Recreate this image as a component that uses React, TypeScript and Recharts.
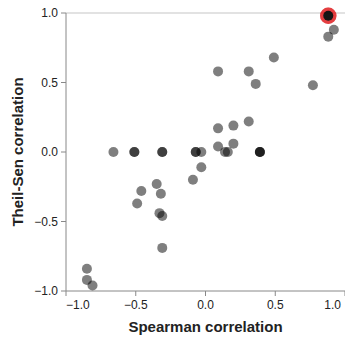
import React from 'react';
import { ScatterChart, Scatter, XAxis, YAxis, ReferenceLine } from 'recharts';

// Spearman (x) vs Theil-Sen (y) correlation per feature
const spearman = [
  0.92, 0.88, 0.49, 0.09, 0.31, 0.36, 0.77, 0.31, 0.2, 0.09,
  0.09, 0.2, 0.14, 0.16, -0.07, -0.07, -0.03, 0.39, 0.39, 0.39,
  -0.03, -0.09, -0.66, -0.51, -0.51, -0.31, -0.31, -0.35, -0.46, -0.32,
  -0.49, -0.33, -0.31, -0.31, -0.85, -0.85, -0.81,
];
const theilSen = [
  0.88, 0.83, 0.68, 0.58, 0.58, 0.49, 0.48, 0.22, 0.19, 0.17,
  0.04, 0.06, 0.0, 0.0, 0.0, 0.0, 0.0, 0.0, 0.0, 0.0,
  -0.11, -0.2, 0.0, 0.0, 0.0, 0.0, 0.0, -0.23, -0.28, -0.3,
  -0.37, -0.44, -0.46, -0.69, -0.84, -0.92, -0.96,
];

// Selected feature, drawn with a red ring
const selectedSpearman = [0.88, 0.88];
const selectedTheilSen = [0.98, 0.98];

const axisTicks = [-1, -0.5, 0, 0.5, 1];

const points = spearman.map((x, i) => ({ x, y: theilSen[i] }));
const selected = selectedSpearman.map((x, i) => ({ x, y: selectedTheilSen[i] }));

const FONT = '"Liberation Sans", Arial, Helvetica, sans-serif';
const AXIS_GRAY = '#888';
const TEXT = '#222';

const fmt = (v: number) => v.toFixed(1).replace('-', '\u2212');

const XTick = (props: any) => {
  const { x, y, payload, index } = props;
  const last = axisTicks.length - 1;
  const anchor = index === 0 ? 'start' : index === last ? 'end' : 'middle';
  return (
    <text x={x} y={y + 11} textAnchor={anchor} fontSize={12} fontFamily={FONT} fill={TEXT}>
      {fmt(payload.value)}
    </text>
  );
};

const YTick = (props: any) => {
  const { x, y, payload } = props;
  return (
    <text x={x - 1} y={y} dy={4} textAnchor="end" fontSize={12} fontFamily={FONT} fill={TEXT}>
      {fmt(payload.value)}
    </text>
  );
};

const Dot = (p: any) => <circle cx={p.cx} cy={p.cy} r={5} fill="#000" fillOpacity={0.5} />;

const SelectedDot = (p: any) => (
  <g>
    <circle cx={p.cx} cy={p.cy} r={6.5} fill="none" stroke="#e0191c" strokeOpacity={0.6} strokeWidth={3.5} />
    <circle cx={p.cx} cy={p.cy} r={5} fill="#000" fillOpacity={0.7} />
  </g>
);

export default function App() {
  return (
    <div style={{ position: 'absolute', left: 0, top: 0 }}>
      <ScatterChart width={345} height={340} margin={{ top: 13, right: 0, bottom: 0, left: 0 }}>
        <ReferenceLine y={1} stroke="#e2e2e2" strokeWidth={2} />
        <XAxis
          type="number"
          dataKey="x"
          domain={[-1, 1]}
          ticks={axisTicks}
          height={49}
          tickSize={5}
          stroke={AXIS_GRAY}
          tick={XTick}
          label={(lp: any) => {
            const vb = lp.viewBox || { x: 66, y: 291, width: 279 };
            return (
              <text
                x={vb.x + vb.width / 2}
                y={vb.y + 41}
                textAnchor="middle"
                fontSize={15}
                fontWeight="bold"
                fontFamily={FONT}
                fill={TEXT}
              >
                Spearman correlation
              </text>
            );
          }}
        />
        <YAxis
          type="number"
          dataKey="y"
          domain={[-1, 1]}
          ticks={axisTicks}
          width={66}
          tickSize={5}
          stroke={AXIS_GRAY}
          tick={YTick}
          label={(lp: any) => {
            const vb = lp.viewBox || { x: 0, y: 13, width: 66, height: 278 };
            return (
              <text
                transform={`translate(${vb.x + 23}, ${vb.y + vb.height / 2}) rotate(-90)`}
                textAnchor="middle"
                fontSize={15}
                fontWeight="bold"
                fontFamily={FONT}
                fill={TEXT}
              >
                Theil-Sen correlation
              </text>
            );
          }}
        />
        <Scatter data={points} shape={Dot} isAnimationActive={false} />
        <Scatter data={selected} shape={SelectedDot} isAnimationActive={false} />
      </ScatterChart>
    </div>
  );
}
